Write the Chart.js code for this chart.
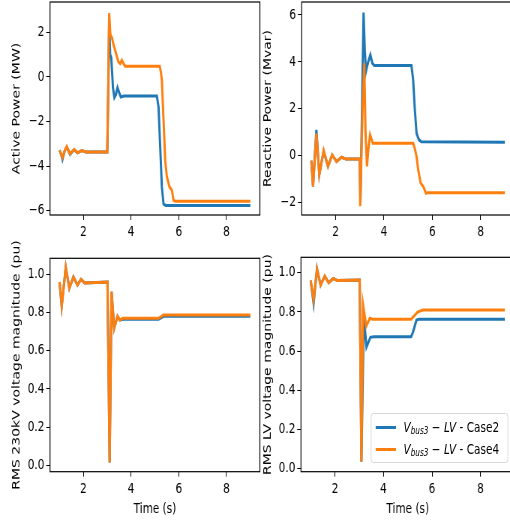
<!DOCTYPE html>
<html>
<head>
<meta charset="utf-8">
<script src="https://cdn.jsdelivr.net/npm/chart.js@4.4.1/dist/chart.umd.min.js"></script>
<style>
  html, body { margin: 0; padding: 0; background: #fff; }
  body { width: 510px; height: 522px; overflow: hidden; position: relative; }
  /* the figure is drawn 690 wide and squeezed by 0.75, like the reference */
  #stage { position: absolute; left: 0; top: 0; width: 690px; height: 522px; transform: scaleX(0.75); transform-origin: 0 0; }
  #stage canvas { position: absolute; }
  .legend { position: absolute; left: 494px; top: 413px; width: 184px; height: 50px; box-sizing: border-box;
            border: 1px solid #d0d0d0; border-radius: 4px; background: rgba(255,255,255,0.85);
            font-family: 'DejaVu Sans', sans-serif; font-size: 14px; color: #000; }
  .legend .row { position: absolute; left: 0; height: 19px; width: 100%; }
  .legend .swatch { position: absolute; left: 6px; top: 8px; width: 27px; height: 3px; }
  .legend .lbl { position: absolute; left: 43px; top: 0; line-height: 19px; white-space: nowrap; }
  .legend sub { font-size: 70%; font-style: italic; vertical-align: -0.2em; line-height: 0; }
</style>
</head>
<body>
<div id="stage">
  <canvas id="pChart" width="350" height="242" style="left:0;top:0"></canvas>
  <canvas id="qChart" width="350" height="242" style="left:340px;top:0"></canvas>
  <canvas id="vhChart" width="350" height="302" style="left:0;top:220px"></canvas>
  <canvas id="vlChart" width="350" height="302" style="left:340px;top:220px"></canvas>
  <div class="legend">
    <div class="row" style="top:4px"><span class="swatch" style="background:#1f77b4"></span><span class="lbl"><i>V</i><sub>bus3</sub> − <i>LV</i> - Case2</span></div>
    <div class="row" style="top:26px"><span class="swatch" style="background:#ff7f0e"></span><span class="lbl"><i>V</i><sub>bus3</sub> − <i>LV</i> - Case4</span></div>
  </div>
</div>
<script>
const BLUE = '#1f77b4';
const ORANGE = '#ff7f0e';

const xTicks = [2, 4, 6, 8];

// Active power (MW)
const pTime2 = [1.0, 1.06, 1.12, 1.22, 1.30, 1.44, 1.61, 1.75, 1.93, 2.1, 3.0, 3.05, 3.08, 3.12, 3.17, 3.24, 3.30, 3.36, 3.43, 3.50, 3.57, 3.7, 5.08, 5.15, 5.22, 5.29, 5.36, 5.45, 9.0];
const pCase2 = [-3.29, -3.45, -3.70, -3.30, -3.14, -3.47, -3.26, -3.40, -3.30, -3.36, -3.36, -0.3, 2.6, 1.0, 0.85, -0.5, -0.92, -0.8, -0.48, -0.7, -0.9, -0.86, -0.86, -1.35, -3.14, -4.93, -5.70, -5.76, -5.76];
const pTime4 = [1.0, 1.06, 1.12, 1.22, 1.30, 1.44, 1.61, 1.75, 1.93, 2.1, 3.0, 3.04, 3.08, 3.13, 3.2, 3.26, 3.33, 3.4, 3.47, 3.54, 3.61, 3.68, 3.75, 5.2, 5.25, 5.29, 5.36, 5.43, 5.5, 5.61, 5.71, 5.78, 5.85, 9.0];
const pCase4 = [-3.29, -3.45, -3.62, -3.30, -3.12, -3.45, -3.25, -3.40, -3.30, -3.36, -3.36, -0.5, 2.86, 1.9, 1.75, 1.45, 1.2, 0.93, 0.67, 0.6, 0.75, 0.6, 0.48, 0.48, 0.2, -0.15, -1.94, -3.73, -4.48, -4.93, -5.08, -5.53, -5.57, -5.57];
const pTicks = [-6, -4, -2, 0, 2];

// Reactive power (Mvar)
const qTime2 = [1.0, 1.07, 1.21, 1.33, 1.51, 1.69, 1.86, 2.04, 2.25, 2.43, 3.0, 3.03, 3.08, 3.16, 3.21, 3.26, 3.35, 3.44, 3.52, 3.6, 5.14, 5.21, 5.28, 5.35, 5.45, 5.55, 9.0];
const qCase2 = [-0.2, -1.3, 1.1, -0.8, 0.2, -0.45, 0.04, -0.24, -0.06, -0.14, -0.14, -2.0, 1.0, 6.1, 4.5, 3.6, 4.0, 4.3, 3.95, 3.85, 3.85, 3.23, 1.96, 0.96, 0.68, 0.6, 0.58];
const qTime4 = [1.0, 1.07, 1.21, 1.33, 1.51, 1.69, 1.86, 2.04, 2.25, 2.43, 3.0, 3.02, 3.07, 3.12, 3.19, 3.24, 3.3, 3.36, 3.43, 3.54, 3.65, 5.21, 5.28, 5.35, 5.42, 5.52, 5.63, 5.74, 5.8, 9.0];
const qCase4 = [-0.2, -1.3, 0.95, -0.8, 0.23, -0.45, 0.04, -0.24, -0.06, -0.14, -0.14, -2.15, 0.0, 2.0, 3.94, 1.0, -0.45, 0.3, 0.89, 0.54, 0.54, 0.54, 0.3, -0.03, -0.6, -1.16, -1.31, -1.59, -1.57, -1.57];
const qTicks = [-2, 0, 2, 4, 6];

// RMS 230kV voltage (pu)
const vhTime2 = [1.0, 1.09, 1.26, 1.41, 1.58, 1.75, 1.9, 2.05, 3.01, 3.1, 3.18, 3.29, 3.43, 3.53, 3.65, 5.15, 5.36, 9.0];
const vhCase2 = [0.96, 0.834, 1.037, 0.927, 0.987, 0.944, 0.974, 0.955, 0.96, 0.014, 0.909, 0.717, 0.78, 0.76, 0.765, 0.765, 0.78, 0.78];
const vhTime4 = [1.0, 1.09, 1.26, 1.41, 1.58, 1.75, 1.9, 2.05, 3.01, 3.1, 3.18, 3.29, 3.43, 3.53, 3.65, 5.15, 5.36, 9.0];
const vhCase4 = [0.96, 0.834, 1.037, 0.927, 0.987, 0.944, 0.974, 0.955, 0.96, 0.014, 0.909, 0.717, 0.78, 0.76, 0.77, 0.77, 0.787, 0.787];
const vTicks = [0.0, 0.2, 0.4, 0.6, 0.8, 1.0];

// RMS LV voltage (pu)
const vlTime2 = [1.0, 1.12, 1.26, 1.41, 1.58, 1.74, 1.93, 2.1, 3.02, 3.09, 3.19, 3.3, 3.46, 3.6, 5.14, 5.22, 5.36, 5.45, 9.0];
const vlCase2 = [0.96, 0.843, 1.02, 0.937, 0.983, 0.949, 0.971, 0.96, 0.963, 0.034, 0.775, 0.62, 0.67, 0.673, 0.673, 0.698, 0.758, 0.762, 0.762];
const vlTime4 = [1.0, 1.12, 1.26, 1.41, 1.58, 1.74, 1.93, 2.1, 3.02, 3.09, 3.16, 3.29, 3.44, 3.55, 5.14, 5.3, 5.42, 5.63, 9.0];
const vlCase4 = [0.96, 0.86, 1.02, 0.937, 0.983, 0.949, 0.971, 0.96, 0.963, 0.034, 0.835, 0.727, 0.767, 0.762, 0.762, 0.785, 0.8, 0.809, 0.809];

Chart.defaults.color = '#000';
Chart.defaults.font.family = "'DejaVu Sans', sans-serif";
Chart.defaults.font.size = 14;

// box around the plot area, like matplotlib spines
const framePlugin = {
  id: 'frame',
  afterDatasetsDraw(chart) {
    const {ctx, chartArea: a} = chart;
    ctx.save();
    ctx.strokeStyle = '#000';
    ctx.lineWidth = 1.2;
    ctx.strokeRect(a.left, a.top, a.right - a.left, a.bottom - a.top);
    ctx.restore();
  }
};

function pts(t, v) {
  return t.map((x, i) => ({x: x, y: v[i]}));
}

function minus(s) {
  return String(s).replace('-', '\u2212');
}

// fixed axis sizes so the plot area lands where it is in the figure
function noPad(sc) {
  sc.paddingLeft = 0;
  sc.paddingRight = 0;
  sc.paddingTop = 0;
  sc.paddingBottom = 0;
}

function makeChart(id, s2, s4, yMin, yMax, yTicks, yFmt, yTitle, box) {
  const canvas = document.getElementById(id);
  return new Chart(canvas.getContext('2d'), {
    type: 'line',
    data: {
      datasets: [
        {label: 'Case2', data: s2, borderColor: BLUE, borderWidth: 3, pointRadius: 0, tension: 0, order: 1},
        {label: 'Case4', data: s4, borderColor: ORANGE, borderWidth: 3, pointRadius: 0, tension: 0, order: 0}
      ]
    },
    options: {
      responsive: false,
      animation: false,
      layout: {padding: {left: 0, top: box.top, right: canvas.width - box.right, bottom: 0}},
      plugins: {legend: {display: false}, tooltip: {enabled: false}},
      scales: {
        x: {
          type: 'linear', min: 0.6, max: 9.4,
          afterBuildTicks: sc => { sc.ticks = xTicks.map(v => ({value: v})); },
          afterFit: sc => { sc.height = canvas.height - box.bottom; noPad(sc); },
          grid: {drawOnChartArea: false, drawTicks: true, tickLength: 5, color: '#000'},
          border: {display: false},
          ticks: {padding: 4, maxRotation: 0, callback: v => String(v)},
          title: {display: box.xTitle, text: 'Time (s)', padding: {top: 0, bottom: 4.6}}
        },
        y: {
          type: 'linear', min: yMin, max: yMax,
          afterBuildTicks: sc => { sc.ticks = yTicks.map(v => ({value: v})); },
          afterFit: sc => { sc.width = box.left; noPad(sc); },
          grid: {drawOnChartArea: false, drawTicks: true, tickLength: 5, color: '#000'},
          border: {display: false},
          ticks: {padding: 2.5, callback: yFmt},
          title: {display: true, text: yTitle, padding: {top: box.titlePad, bottom: 0}}
        }
      }
    },
    plugins: [framePlugin]
  });
}

makeChart('pChart', pts(pTime2, pCase2), pts(pTime4, pCase4), -6.19, 3.36, pTicks, v => minus(v),
  'Active Power (MW)', {left: 66.7, right: 346.5, top: 2, bottom: 215, titlePad: 14.3, xTitle: false});
makeChart('qChart', pts(qTime2, qCase2), pts(qTime4, qCase4), -2.52, 6.55, qTicks, v => minus(v),
  'Reactive Power (Mvar)', {left: 62.2, right: 346, top: 2, bottom: 215, titlePad: 8.9, xTitle: false});
makeChart('vhChart', pts(vhTime2, vhCase2), pts(vhTime4, vhCase4), -0.034, 1.084, vTicks, v => v.toFixed(1),
  'RMS 230kV voltage magnitude (pu)', {left: 66.7, right: 346.5, top: 38.3, bottom: 251.7, titlePad: 14.3, xTitle: true});
makeChart('vlChart', pts(vlTime2, vlCase2), pts(vlTime4, vlCase4), -0.017, 1.079, vTicks, v => v.toFixed(1),
  'RMS LV voltage magnitude (pu)', {left: 61.3, right: 346, top: 37.3, bottom: 251.7, titlePad: 8.9, xTitle: true});
</script>
</body>
</html>
